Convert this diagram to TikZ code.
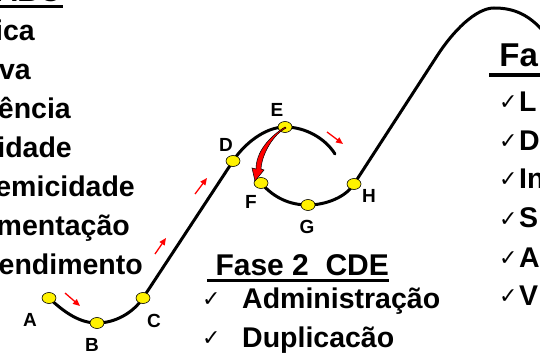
\documentclass[tikz,border=0pt]{standalone}
\usepackage{fontspec}
\setmainfont{Liberation Sans}
\newfontfamily\chkfont{DejaVu Sans}
\usetikzlibrary{arrows.meta,calc,shapes.geometric,backgrounds}
\tikzset{
  dot/.style={ellipse, draw=black, fill=yellow, line width=0.6pt,
    minimum width=14pt, minimum height=11pt, inner sep=0pt},
  lbl/.style={font=\fontsize{19}{19}\selectfont\bfseries, inner sep=0pt},
  big/.style={font=\fontsize{28.5}{28.5}\selectfont\bfseries, inner sep=0pt},
  head/.style={font=\fontsize{30}{30}\selectfont\bfseries, inner sep=0pt},
  chk/.style={font=\fontsize{22}{22}\chkfont, inner sep=0pt},
  flow/.style={red, line width=1.3pt, -{Triangle[length=7pt,width=6pt]}},
  track/.style={line width=3pt, line cap=round}
}
\begin{document}
\begin{tikzpicture}[x=1pt,y=-1pt]
  \useasboundingbox (0,0) rectangle (540,355);
  \clip (0,0) rectangle (540,355);
  % points on the curve
  \foreach \n/\x/\y in {A/49/298, B/97/323, C/143/298, D/233/161,
                        E/285/127, F/261/183, G/308/205, H/354/184}
    \node[dot] (\n) at (\x,\y) {};
  \foreach \n/\x/\y in {A/30/320, B/92/345, C/154/321, D/226/145,
                        E/277/110, F/251/202, G/307/227, H/369/196}
    \node[lbl] (l\n) at (\x,\y) {\n};
  \begin{scope}[on background layer]
    \draw[track] (A.center) .. controls (65,313) and (80,323) .. (B.center)
      .. controls (115,323) and (133,313) .. (C.center) -- (D.center)
      .. controls (244,144) and (265,127) .. (E.center)
      .. controls (305,127) and (325,138) .. (335,154);
    \draw[track] (F.center) .. controls (274,198) and (290,205) .. (G.center)
      .. controls (326,205) and (346,197) .. (H.center) -- (437,56)
      .. controls (453,31) and (476,8) .. (494,8)
      .. controls (512,8) and (531,13) .. (550,40);
  \end{scope}
  % direction arrows
  \foreach \xa/\ya/\xb/\yb in {65/293/80/306, 155/254/166/238,
                               195/194/207/178, 327/132/343/144}
    \draw[flow] (\xa,\ya) -- (\xb,\yb);
  % jump from E back to F
  \filldraw[fill=red, draw=black, line width=0.5pt]
    (E.center) .. controls ($(E)+(-16,10)$) and ($(F)+(-5,-31)$) .. ($(F)+(-5,-14)$)
    -- ($(F)+(-9,-15)$) -- ($(F)+(-6,-2)$) -- ($(F)+(3,-13)$) -- ($(F)+(0,-14)$)
    .. controls ($(F)+(1,-30)$) and ($(E)+(-11,7)$) .. ($(E)+(1,1)$) -- cycle;
  % left list
  \node[head, anchor=base east] (abc) at (61,2) {ABC};
  \draw[line width=3pt] (0,7) -- (63,7);
  \foreach \t/\x/\y [count=\i] in {ica/35/41, va/31/80, ência/71/119,
      idade/72/158, emicidade/135/197, mentação/130/236, endimento/143/274}
    \node[big, anchor=base east] (w\i) at (\x,\y) {\t};
  % Fase 2
  \node[head, anchor=base west] (f2) at (207,275) {\ Fase 2\ \ CDE};
  \draw[line width=3pt] (207,280) -- (f2.east |- 0,280);
  \foreach \t/\y [count=\i] in {Administração/308, Duplicacão/347} {
    \node[chk, anchor=base west] (mc\i) at (202,\y-2) {✓};
    \node[big, anchor=base west] (m\i) at (242,\y) {\t};
  }
  % right list
  \node[head, font=\fontsize{33}{33}\selectfont\bfseries, anchor=base west]
    (f3) at (490,67) {\ Fa};
  \draw[line width=3.5pt] (489,75) -- (540,75);
  \foreach \t/\y [count=\i] in {L/112, D/151, In/189, S/228, A/267, V/305} {
    \node[chk, anchor=base west] (rc\i) at (499,\y-2) {✓};
    \node[big, anchor=base west] (r\i) at (519,\y) {\t};
  }
\end{tikzpicture}
\end{document}
